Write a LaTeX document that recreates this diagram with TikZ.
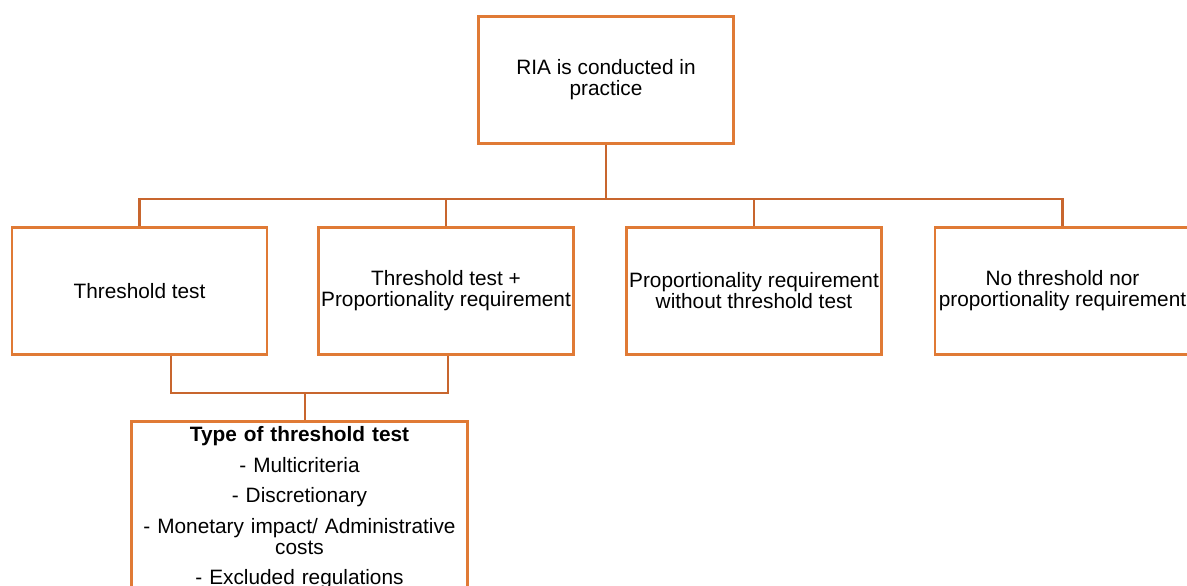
\documentclass[tikz,border=0pt]{standalone}
\usepackage{fontspec}
\setmainfont{Liberation Sans}
\usetikzlibrary{positioning}
\usetikzlibrary{calc}
\definecolor{ria-orange}{HTML}{E07A35}
\definecolor{ria-rust}{HTML}{C8662E}
\colorlet{frame}{ria-orange}
\colorlet{wire}{ria-rust}
\tikzset{
  riabox/.style={draw=frame, line width=2.2pt, fill=white, minimum width=191.25pt,
    minimum height=95.25pt, inner sep=1pt, align=center,
    font=\fontsize{15.6}{15.8}\selectfont},
  typebox/.style={riabox, minimum height=0pt, text width=244pt, inner xsep=4pt,
    inner ysep=4pt, anchor=north},
  riabus/.style={draw=wire, line width=1.9pt},
}

\begin{document}
\begin{tikzpicture}[x=0.75pt, y=-0.75pt]
\useasboundingbox (0,0) rectangle (1187,585);
\begin{scope}
\clip (0,0) rectangle (1187,585);
% top of the tree
\node[riabox] (practice) at (606,80) {RIA is conducted in\\practice};
% second row
\node[riabox] (test) at (139.5,291) {Threshold test};
\node[riabox] (testprop) at (446,291) {Threshold test +\\Proportionality requirement};
\node[riabox] (propnt) at (754,291) {Proportionality requirement\\without threshold test};
\node[riabox] (none) at (1062.5,291) {No threshold nor\\proportionality requirement};
% kinds of test
\node[typebox] (types) at (299.5,420) {\textbf{Type of threshold test}\\[7pt]
  - Multicriteria\\[7pt]
  - Discretionary\\[7pt]
  - Monetary impact/ Administrative\\costs\\[7pt]
  - Excluded regulations};
% upper bus
\coordinate (bus) at (606,199);
\draw[riabus] (practice.south) -- (bus);
\draw[riabus] (test.north) |- (bus) -| (none.north);
\draw[riabus] (testprop.north) -- (testprop.north |- bus);
\draw[riabus] (propnt.north) -- (propnt.north |- bus);
% lower bus
\coordinate (join) at (305,393);
\draw[riabus] ($(test.south)+(31.5,0)$) |- (join) -| ($(testprop.south)+(2,0)$);
\draw[riabus] (join) -- (join |- types.north);
\end{scope}
\end{tikzpicture}
\end{document}
